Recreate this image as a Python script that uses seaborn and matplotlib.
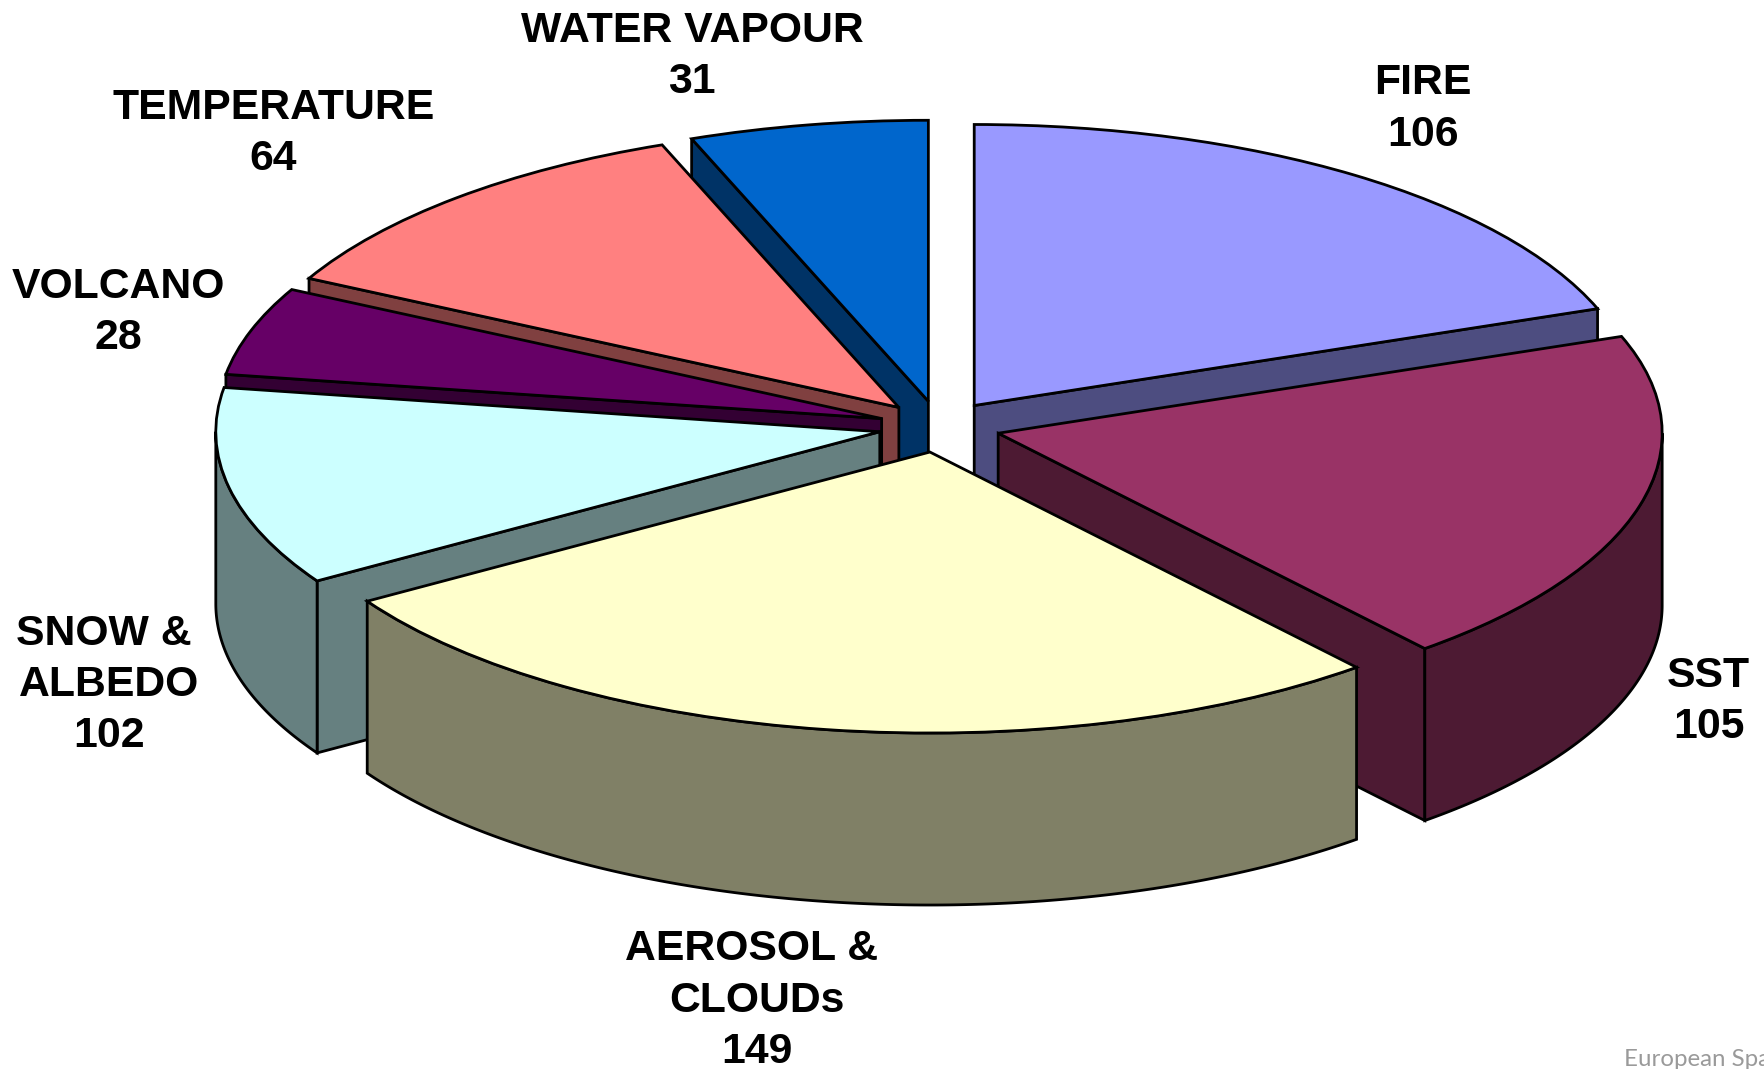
import numpy as np
import matplotlib
matplotlib.use('Agg')
import matplotlib.pyplot as plt
import seaborn as sns

# Values and labels, clockwise from 12 o'clock
categories = ['FIRE', 'SST', 'AEROSOL & \nCLOUDs', 'SNOW & \nALBEDO', 'VOLCANO', 'TEMPERATURE', 'WATER VAPOUR']
label_values = [106, 105, 149, 102, 28, 64, 31]
# slice sizes, snow is much smaller than its printed 102
slice_values = [107, 107.5, 150, 63, 28, 64, 32]
top_colors = ['#9999FF', '#993366', '#FFFFCC', '#CCFFFF', '#660066', '#FF8080', '#0066CC']

W, H = 1765, 1069
CX, CY = 939.4, 426.6      # pie centre, px from top left
RX, RY = 664, 281          # px per pie unit
DEPTH = 172 / RY
EXPLODE = 0.0916
LW = 2.0

# label centres as fractions of the figure
label_pos = [(0.806, 0.898), (0.968, 0.344), (0.429, 0.064), (0.062, 0.359),
             (0.067, 0.708), (0.155, 0.875), (0.392, 0.947)]

# back slices first so the front ones cover their walls
draw_order = [6, 5, 4, 3, 0, 1, 2]

sns.set_theme(style='white')
plt.rcParams['font.family'] = ['Liberation Sans', 'DejaVu Sans']
palette = sns.color_palette(top_colors)
wall_colors = [tuple(c * 0.5 for c in col) for col in palette]

fig = plt.figure(figsize=(W / 100, H / 100), dpi=100)
ax = fig.add_axes([0, 0, 1, 1])

wedges, _ = ax.pie(slice_values, colors=palette, startangle=90, counterclock=False,
                   explode=[EXPLODE] * len(slice_values), radius=1,
                   wedgeprops={'edgecolor': 'black', 'linewidth': LW})

# slice edges in degrees clockwise from the top
edges = np.cumsum([0] + slice_values) / sum(slice_values) * 360


def pt(deg, r=1.0):
    t = np.radians(deg)
    return r * np.sin(t), r * np.cos(t)


def wall(xs, ys, color, z):
    xs = np.asarray(xs)
    ys = np.asarray(ys)
    ax.fill(np.r_[xs, xs[::-1]], np.r_[ys, ys[::-1] - DEPTH], facecolor=color,
            edgecolor='black', linewidth=LW, zorder=z, joinstyle='miter')


for rank, i in enumerate(draw_order):
    z = 2 + rank * 2
    a0, a1 = edges[i], edges[i + 1]
    mid = np.radians((a0 + a1) / 2)
    ox, oy = EXPLODE * np.sin(mid), EXPLODE * np.cos(mid)
    # radial walls that face the viewer
    if np.sin(np.radians(a0)) < 0:
        x, y = pt(a0)
        wall([ox, ox + x], [oy, oy + y], wall_colors[i], z)
    if np.sin(np.radians(a1)) > 0:
        x, y = pt(a1)
        wall([ox, ox + x], [oy, oy + y], wall_colors[i], z)
    # outer rim, front half only
    lo, hi = max(a0, 90), min(a1, 270)
    if hi > lo:
        arc = np.linspace(lo, hi, 200)
        x, y = pt(arc)
        wall(ox + x, oy + y, wall_colors[i], z)
    wedges[i].set_zorder(z + 1)

ax.set_aspect('auto')
ax.set_xlim(-CX / RX, (W - CX) / RX)
ax.set_ylim(-(H - CY) / RY, CY / RY)
ax.axis('off')

for name, val, (fx, fy) in zip(categories, label_values, label_pos):
    fig.text(fx, fy, f'{name}\n{val}', ha='center', va='center', fontsize=30.8,
             fontweight='bold', color='black', linespacing=1.36)

fig.text(1624 / W, 1 - 1066 / H, 'European Space Agency', ha='left', va='baseline',
         fontsize=17.3, color='#9a9a9a', family='Lato')

fig.savefig('out.png', dpi=100, facecolor='white')
